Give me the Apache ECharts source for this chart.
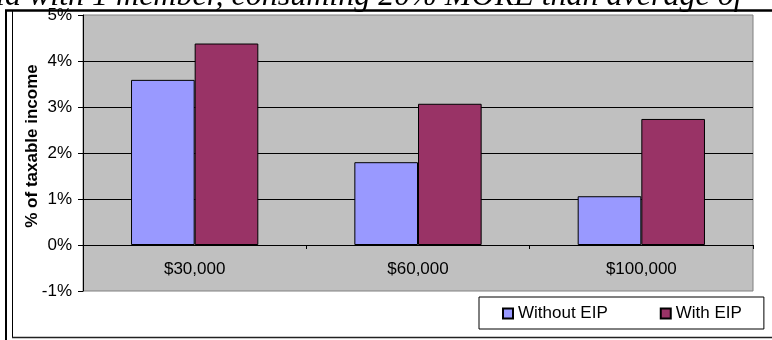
<!DOCTYPE html>
<html>
<head>
<meta charset="utf-8">
<script src="https://cdn.jsdelivr.net/npm/echarts@6/dist/echarts.min.js"></script>
<style>
  html, body { margin: 0; padding: 0; background: #ffffff; }
  #chart { width: 772px; height: 340px; }
</style>
</head>
<body>
<div id="chart"></div>
<script>
// Income levels and energy cost share (% of taxable income)
const incomeLevels = ['$30,000', '$60,000', '$100,000'];
const withoutEIP = [3.59, 1.80, 1.06];
const withEIP = [4.38, 3.07, 2.74];
const seriesNames = ['Without EIP', 'With EIP'];
const yTicks = [-1, 0, 1, 2, 3, 4, 5];
const yAxisTitle = '% of taxable income';
const headerText = 'ld with 1 member, consuming 20% MORE than average of';

const SANS = '"Liberation Sans", Arial, sans-serif';
const SERIF = '"Liberation Serif", "Times New Roman", serif';

const GRID = { left: 83, top: 15, right: 19, bottom: 49 };
const plotHeight = 340 - GRID.top - GRID.bottom;
const yMin = yTicks[0];
const yMax = yTicks[yTicks.length - 1];
// category axis sits on the zero line of the value axis
const zeroOffset = -plotHeight * (0 - yMin) / (yMax - yMin);

const chart = echarts.init(document.getElementById('chart'), null, { renderer: 'canvas' });

const option = {
  backgroundColor: '#ffffff',
  animation: false,
  textStyle: { fontFamily: SANS },
  grid: {
    left: GRID.left, top: GRID.top, right: GRID.right, bottom: GRID.bottom,
    show: true,
    backgroundColor: '#C0C0C0',
    borderColor: '#808080',
    borderWidth: 1
  },
  legend: {
    left: 479, top: 297,
    orient: 'horizontal',
    backgroundColor: '#ffffff',
    borderColor: '#000000',
    borderWidth: 1,
    borderRadius: 0,
    padding: [8, 22, 7, 23],
    itemWidth: 10, itemHeight: 10,
    itemGap: 52,
    icon: 'rect',
    textStyle: { fontFamily: SANS, fontSize: 17, color: '#000' },
    data: seriesNames
  },
  xAxis: {
    type: 'category',
    data: incomeLevels,
    offset: zeroOffset,
    axisLine: { onZero: false, lineStyle: { color: '#000', width: 1 } },
    axisTick: { show: true, length: 4, inside: false, lineStyle: { color: '#000' } },
    axisLabel: { fontFamily: SANS, fontSize: 17, color: '#000', margin: 16 },
    splitLine: { show: false }
  },
  yAxis: {
    type: 'value',
    min: yMin, max: yMax, interval: 1,
    axisLine: { show: true, lineStyle: { color: '#000', width: 1 } },
    axisTick: { show: true, length: 5, lineStyle: { color: '#000' } },
    axisLabel: {
      fontFamily: SANS, fontSize: 17, color: '#000', margin: 11,
      formatter: v => v + '%'
    },
    splitLine: {
      show: true, showMinLine: false, showMaxLine: false,
      lineStyle: { color: '#000', width: 1 }
    }
  },
  series: [
    {
      name: seriesNames[0], type: 'bar', data: withoutEIP,
      barGap: '0%', barCategoryGap: '43%',
      itemStyle: { color: '#9999FF', borderColor: '#000', borderWidth: 1 }
    },
    {
      name: seriesNames[1], type: 'bar', data: withEIP,
      barGap: '0%', barCategoryGap: '43%',
      itemStyle: { color: '#993366', borderColor: '#000', borderWidth: 1 }
    }
  ],
  graphic: [
    {
      type: 'text', z: 1, x: -4, y: -19,
      style: { text: headerText, font: 'italic 32px ' + SERIF, fill: '#000' }
    },
    {
      type: 'text', z: 5, x: 32, y: 146, rotation: Math.PI / 2,
      style: {
        text: yAxisTitle, font: 'bold 17px ' + SANS, fill: '#000',
        align: 'center', verticalAlign: 'middle'
      }
    },
    // outer frame: top rule and left double rule
    { type: 'line', z: 10, shape: { x1: 5, y1: 10.5, x2: 772, y2: 10.5 }, style: { stroke: '#000', lineWidth: 2.5 } },
    { type: 'line', z: 10, shape: { x1: 6, y1: 10, x2: 6, y2: 340 }, style: { stroke: '#000', lineWidth: 2 } },
    { type: 'line', z: 10, shape: { x1: 12.5, y1: 11, x2: 12.5, y2: 338 }, style: { stroke: '#000', lineWidth: 1 } },
    { type: 'line', z: 10, shape: { x1: 12, y1: 337.5, x2: 772, y2: 337.5 }, style: { stroke: '#222', lineWidth: 1.5 } }
  ]
};

chart.setOption(option);
</script>
</body>
</html>
